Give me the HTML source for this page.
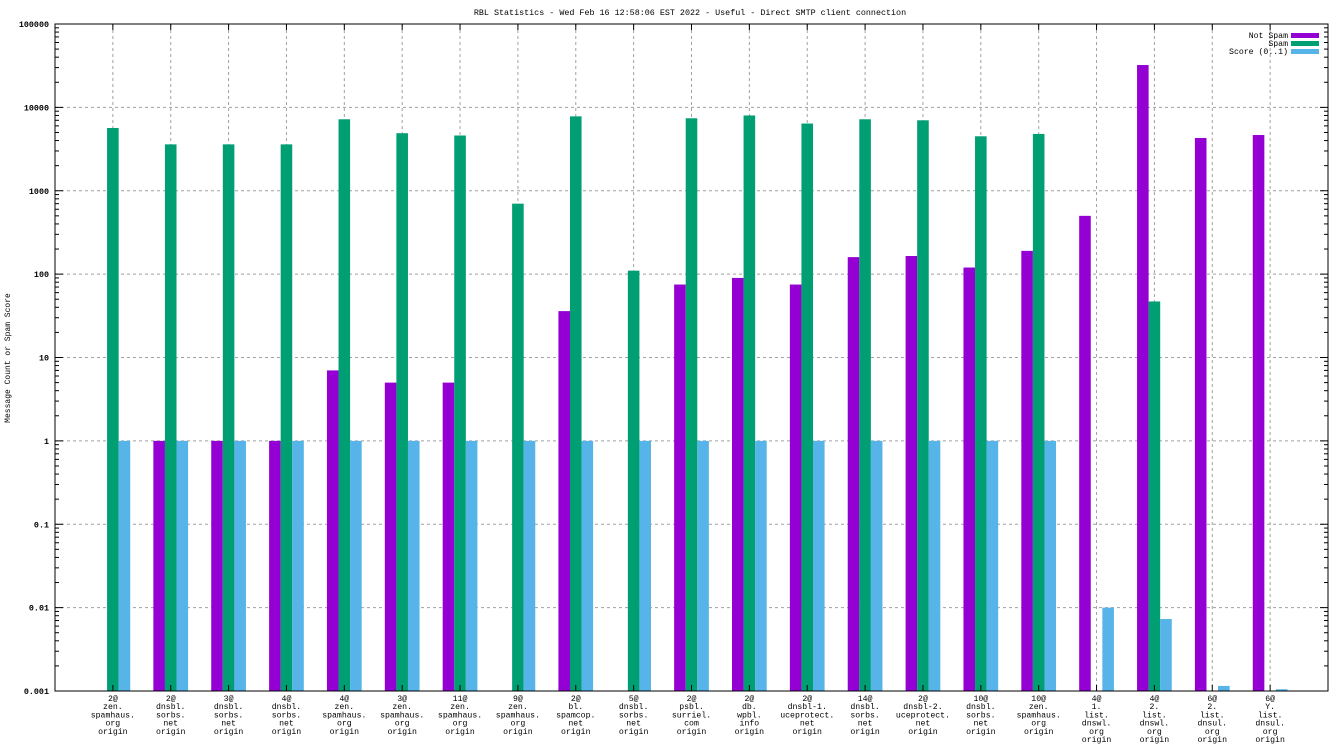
<!DOCTYPE html>
<html><head><meta charset="utf-8"><style>
body{margin:0;background:#fff;}
svg{display:block;font-family:"Liberation Mono","DejaVu Sans Mono",monospace;}
</style></head><body>
<svg id="chart" width="1344" height="756">
<text x="690" y="15" font-size="8.4" text-anchor="middle">RBL Statistics - Wed Feb 16 12:58:06 EST 2022 - Useful - Direct SMTP client connection</text>
<text transform="translate(10,358) rotate(-90)" font-size="8" text-anchor="middle">Message Count or Spam Score</text>
<g id="grid"></g><g id="bars"></g><g id="axes"></g><g id="legend"></g>
</svg>
<script>
const categories=[
["2@","zen.","spamhaus.","org","origin"],["2@","dnsbl.","sorbs.","net","origin"],["3@","dnsbl.","sorbs.","net","origin"],["4@","dnsbl.","sorbs.","net","origin"],
["4@","zen.","spamhaus.","org","origin"],["3@","zen.","spamhaus.","org","origin"],["11@","zen.","spamhaus.","org","origin"],["9@","zen.","spamhaus.","org","origin"],
["2@","bl.","spamcop.","net","origin"],["5@","dnsbl.","sorbs.","net","origin"],["2@","psbl.","surriel.","com","origin"],["2@","db.","wpbl.","info","origin"],
["2@","dnsbl-1.","uceprotect.","net","origin"],["14@","dnsbl.","sorbs.","net","origin"],["2@","dnsbl-2.","uceprotect.","net","origin"],["10@","dnsbl.","sorbs.","net","origin"],
["10@","zen.","spamhaus.","org","origin"],["4@","1.","list.","dnswl.","org","origin"],["4@","2.","list.","dnswl.","org","origin"],["6@","2.","list.","dnsul.","org","origin"],["6@","Y.","list.","dnsul.","org","origin"]];
const notSpam=[null,1,1,1,7,5,5,null,36,null,75,90,75,160,165,120,190,500,32200,4290,4660];
const spam=[5660,3600,3600,3600,7200,4900,4600,700,7800,110,7400,8000,6400,7200,7000,4500,4800,null,47,null,null];
const score=[1,1,1,1,1,1,1,1,1,1,1,1,1,1,1,1,1,0.01,0.0073,0.00115,0.00105];
const yTicks=[0.001,0.01,0.1,1,10,100,1000,10000,100000];
const yTickLabels=["0.001","0.01","0.1","1","10","100","1000","10000","100000"];
const seriesNames=["Not Spam","Spam","Score (0..1)"];
const colors=["#9400d3","#009e73","#56b4e9"];

const L=55,R=1328,T=24,B=691,NS="http://www.w3.org/2000/svg";
const xs=i=>L+(i+1)*(R-L)/(categories.length+1);
const unit=(R-L)/(categories.length+1);
const ys=v=>B-(Math.log10(v)+3)/8*(B-T);
function mk(p,tag,a){const e=document.createElementNS(NS,tag);for(const k in a)e.setAttribute(k,a[k]);document.getElementById(p).appendChild(e);return e;}
yTicks.forEach((v,i)=>{const y=ys(v);
 if(i>0&&i<yTicks.length-1){const g=mk("grid","line",{x1:L,x2:R,y1:y,y2:y,stroke:"#a0a0a0","stroke-dasharray":"3,3"});
 
 }
 const t=mk("axes","text",{x:L-6,y:y+3,"font-size":8.4,"text-anchor":"end","font-weight":"bold"});t.textContent=yTickLabels[i];
 
 
 mk("axes","line",{x1:L,x2:L+8,y1:y,y2:y,stroke:"#000"});mk("axes","line",{x1:R,x2:R-8,y1:y,y2:y,stroke:"#000"});
 if(i<yTicks.length-1)for(let m=2;m<10;m++){const ym=ys(v*m);mk("axes","line",{x1:L,x2:L+4,y1:ym,y2:ym,stroke:"#000"});mk("axes","line",{x1:R,x2:R-4,y1:ym,y2:ym,stroke:"#000"});}
});
categories.forEach((c,i)=>{const x=xs(i);
 const g=mk("grid","line",{x1:x,x2:x,y1:T,y2:B,stroke:"#a0a0a0","stroke-dasharray":"3,3"});
 
 
 mk("axes","line",{x1:x,x2:x,y1:T,y2:T+6,stroke:"#000"});mk("axes","line",{x1:x,x2:x,y1:B,y2:B-6,stroke:"#000"});
 const t=mk("axes","text",{x:x,y:B+9,"font-size":8.2,"text-anchor":"middle"});
 
 
 c.forEach((s,k)=>{const ts=document.createElementNS(NS,"tspan");ts.setAttribute("x",x);ts.setAttribute("y",B+10+k*8.2);ts.textContent=s;t.appendChild(ts);});
});
[notSpam,spam,score].forEach((arr,s)=>{arr.forEach((v,i)=>{if(v==null)return;
 const cx=xs(i)+(s-1)*0.2*unit,w=0.2*unit,y=ys(v);
 const r=mk("bars","rect",{x:cx-w/2,y:y,width:w,height:B-y,fill:colors[s]});
 
 });});
const fr=mk("axes","rect",{x:L,y:T,width:R-L,height:B-T,fill:"none",stroke:"#000"});


seriesNames.forEach((n,s)=>{const y=35+s*8;
 const t=mk("legend","text",{x:1288,y:y+3,"font-size":8.2,"text-anchor":"end"});t.textContent=n;
 
 
 const r=mk("legend","rect",{x:1291,y:y-2,width:28,height:5,fill:colors[s]});
 
 });
</script>
</body></html>
